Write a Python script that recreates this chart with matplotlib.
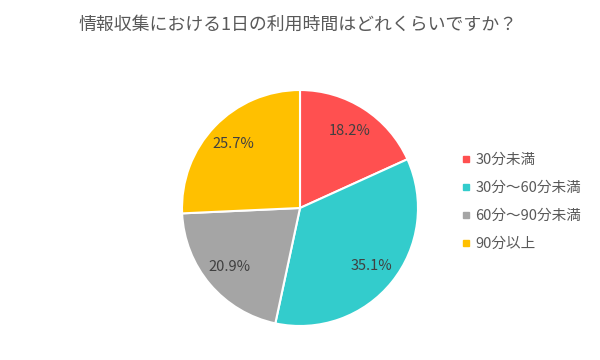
import matplotlib
matplotlib.use("Agg")
import matplotlib.pyplot as plt
from matplotlib.lines import Line2D

plt.rcParams['font.family'] = ['Noto Sans CJK JP', 'DejaVu Sans']

title = "情報収集における1日の利用時間はどれくらいですか？"
labels = ["30分未満", "30分～60分未満", "60分～90分未満", "90分以上"]
values = [18.2, 35.1, 20.9, 25.7]
colors = ["#FF5050", "#33CCCC", "#A5A5A5", "#FFC000"]

fig = plt.figure(figsize=(6, 3.6), dpi=100)
ax = fig.add_axes([180 / 600, 32 / 360, 240 / 600, 240 / 360])

wedges, texts, autotexts = ax.pie(
    values, colors=colors, startangle=90, counterclock=False,
    autopct="%.1f%%", pctdistance=0.78,
    wedgeprops=dict(edgecolor="white", linewidth=1.5),
    textprops=dict(color="#404040", fontsize=10.5),
)
ax.set_xlim(-1.017, 1.017)
ax.set_ylim(-1.017, 1.017)
ax.set_aspect("equal")

fig.text(0.497, 1 - 25 / 360, title, ha="center", va="center",
         fontsize=12.9, color="#595959")

handles = [Line2D([], [], marker="s", linestyle="none", markersize=5,
                  markerfacecolor=c, markeredgecolor=c) for c in colors]
fig.legend(handles, labels, loc="upper left",
           bbox_to_anchor=(454 / 600, 1 - 146 / 360), frameon=False,
           fontsize=10.5, labelcolor="#595959", handlelength=0.6,
           handletextpad=0.35, labelspacing=0.95, borderpad=0)

fig.savefig("out.png", dpi=100, facecolor="white")
